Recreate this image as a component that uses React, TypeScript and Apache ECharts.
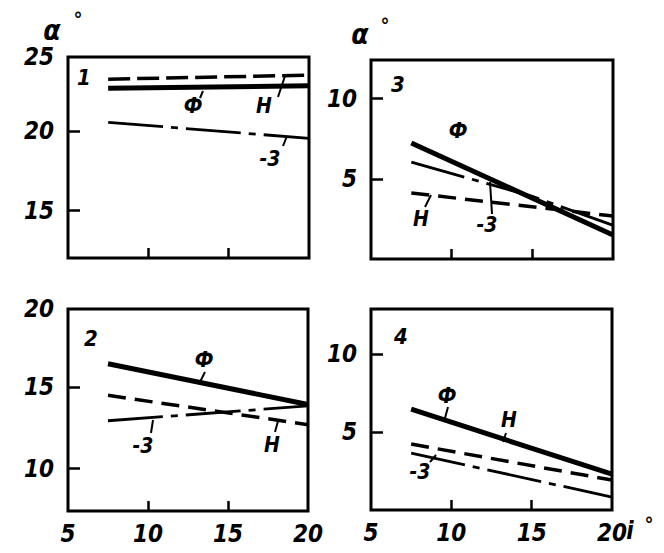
import React, { useEffect, useRef } from "react";
import * as echarts from "echarts";

// ---- data ----
const xRange = [5, 20];
const xTickValues = [10, 15];
const xLabelValues = [5, 10, 15, 20];
const xs = [7.5, 20];
const xs3 = [7.5, 15, 20];

// panel 1
const p1YRange = [12, 24.7];
const p1YTicks = [15, 20];
const p1Phi = [22.72, 22.88];
const p1H = [23.3, 23.55];
const p1E = [20.57, 19.56];

// panel 2
const p2YRange = [7.4, 19.8];
const p2YTicks = [10, 15];
const p2Phi = [16.44, 13.94];
const p2H = [14.5, 12.7];
const p2E = [12.94, 13.85];

// panel 3
const p3YRange = [0, 12.4];
const p3YTicks = [5, 10];
const p3Phi = [7.23, 1.5];
const p3H = [4.11, 2.68];
const p3E = [6.04, 3.9, 2.1];

// panel 4
const p4YRange = [0, 12.9];
const p4YTicks = [5, 10];
const p4Phi = [6.47, 2.3];
const p4H = [4.23, 1.92];
const p4E = [3.65, 0.83];

const FONT = "'DejaVu Sans Condensed', 'Liberation Sans Narrow', 'DejaVu Sans', sans-serif";

const pts = (ys: number[]) => (ys.length === 3 ? xs3 : xs).map((x, i) => [x, ys[i]]);

export default function App() {
  const ref = useRef<HTMLDivElement>(null);
  useEffect(() => {
    if (!ref.current) return;
    const chart = echarts.init(ref.current, null, { renderer: "svg" });

    const grids = [
      { left: 68, top: 57, width: 241, height: 201 },
      { left: 68, top: 309, width: 240, height: 202 },
      { left: 371, top: 60, width: 242, height: 199 },
      { left: 371, top: 309, width: 241, height: 201 },
    ].map((g) => ({
      ...g,
      show: true,
      borderColor: "#000",
      borderWidth: 3,
      backgroundColor: "transparent",
      containLabel: false,
    }));

    const labelStyle = {
      fontFamily: FONT,
      fontStyle: "italic" as const,
      fontWeight: "bold" as const,
      fontSize: 24,
      color: "#000",
    };

    const xAxis = [0, 1, 2, 3].map((i) => ({
      type: "value" as const,
      gridIndex: i,
      min: xRange[0],
      max: xRange[1],
      axisLine: { show: false },
      splitLine: { show: false },
      axisTick: {
        show: true,
        inside: true,
        length: 10,
        customValues: xTickValues,
        lineStyle: { color: "#000", width: 2.5 },
      },
      axisLabel: {
        show: i === 1 || i === 3,
        customValues: xLabelValues,
        margin: 11,
        ...labelStyle,
      },
    }));

    const yConf = [
      [p1YRange, p1YTicks, [...p1YTicks, p1YRange[1]]],
      [p2YRange, p2YTicks, [...p2YTicks, p2YRange[1]]],
      [p3YRange, p3YTicks, p3YTicks],
      [p4YRange, p4YTicks, p4YTicks],
    ];
    const yAxis = yConf.map(([range, ticks, labels], i) => ({
      type: "value" as const,
      gridIndex: i,
      min: range[0],
      max: range[1],
      axisLine: { show: false },
      splitLine: { show: false },
      axisTick: {
        show: true,
        inside: true,
        length: 12,
        customValues: ticks,
        lineStyle: { color: "#000", width: 2.5 },
      },
      axisLabel: {
        show: true,
        customValues: labels,
        margin: 14,
        formatter: (v: number) => String(Math.round(v)),
        ...labelStyle,
      },
    }));

    const dashH = [18, 9];
    const dashE = [55, 8, 7, 8];
    const mk = (i: number, name: string, ys: number[], width: number, type: any) => ({
      type: "line" as const,
      name,
      xAxisIndex: i,
      yAxisIndex: i,
      data: pts(ys),
      symbol: "none",
      showSymbol: false,
      lineStyle: { color: "#000", width, type, cap: "butt" },
      z: 3,
    });

    const series = [
      mk(0, "Ф", p1Phi, 5, "solid"),
      mk(0, "H", p1H, 3.5, [22, 7]),
      mk(0, "Э", p1E, 2.8, dashE),
      mk(1, "Ф", p2Phi, 5, "solid"),
      mk(1, "H", p2H, 3.5, dashH),
      mk(1, "Э", p2E, 2.8, dashE),
      mk(2, "Ф", p3Phi, 5, "solid"),
      mk(2, "H", p3H, 3.5, dashH),
      mk(2, "Э", p3E, 2.8, dashE),
      mk(3, "Ф", p4Phi, 5, "solid"),
      mk(3, "H", p4H, 3.5, dashH),
      mk(3, "Э", p4E, 2.8, dashE),
    ];

    const txt = (x: number, y: number, text: string, size = 22) => ({
      type: "text" as const,
      x,
      y,
      style: {
        text,
        fontFamily: FONT,
        fontStyle: "italic",
        fontWeight: "bold",
        fontSize: size,
        fill: "#000",
        align: "center",
        verticalAlign: "middle",
      },
      z: 10,
    });
    const ln = (x1: number, y1: number, x2: number, y2: number) => ({
      type: "line" as const,
      shape: { x1, y1, x2, y2 },
      style: { stroke: "#000", lineWidth: 2 },
      z: 10,
    });

    const graphic = [
      // axis titles
      txt(52, 30, "α", 28),
      txt(78, 19, "°", 20),
      txt(360, 34, "α", 28),
      txt(385, 25, "°", 20),
      txt(630, 531, "i", 24),
      txt(649, 524, "°", 20),
      // panel numbers
      txt(84, 77, "1", 22),
      txt(91, 338, "2", 22),
      txt(398, 84, "3", 22),
      txt(401, 336, "4", 22),
      // panel 1 annotations
      txt(193, 106, "Ф", 21),
      ln(200, 98, 203, 91),
      txt(264, 106, "H", 21),
      ln(278, 97, 285, 76),
      txt(270, 159, "-3", 21),
      ln(283, 146, 287, 136),
      // panel 2 annotations
      txt(204, 360, "Ф", 21),
      ln(200, 382, 205, 372),
      txt(143, 446, "-3", 21),
      ln(151, 433, 153, 420),
      txt(272, 445, "H", 21),
      ln(275, 432, 278, 421),
      // panel 3 annotations
      txt(458, 131, "Ф", 21),
      txt(421, 219, "H", 21),
      ln(425, 207, 431, 195),
      txt(487, 225, "-3", 21),
      ln(490, 182, 492, 214),
      // panel 4 annotations
      txt(447, 396, "Ф", 21),
      ln(445, 418, 448, 407),
      txt(509, 420, "H", 21),
      ln(503, 442, 506, 433),
      txt(420, 472, "-3", 21),
      ln(430, 462, 436, 455),
    ];

    chart.setOption({
      animation: false,
      backgroundColor: "#fff",
      grid: grids,
      xAxis,
      yAxis,
      series,
      graphic,
    });
    return () => chart.dispose();
  }, []);

  return (
    <div
      ref={ref}
      style={{ position: "fixed", left: 0, top: 0, width: 664, height: 553 }}
    />
  );
}
